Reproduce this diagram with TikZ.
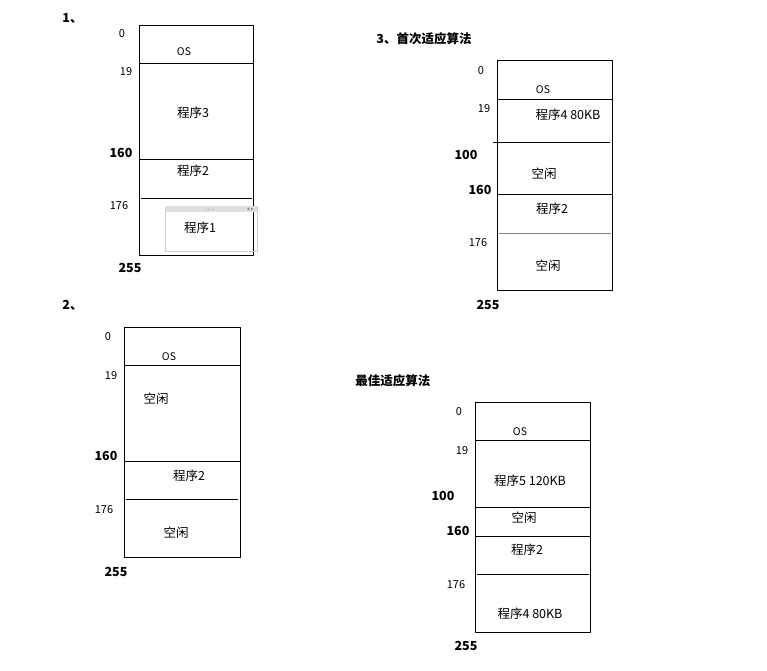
\documentclass[tikz,border=0pt]{standalone}
\usepackage{fontspec}
\setmainfont{Noto Sans CJK SC}
\begin{document}
\begin{tikzpicture}[x=1pt,y=-1pt,line join=round,line width=0.8pt,font=\fontsize{12.5}{14}\selectfont,
	lbl/.style={inner sep=0pt},
	addr/.style={inner sep=0pt,font=\fontsize{11}{13}\selectfont},
	baddr/.style={inner sep=0pt,font=\fontsize{12.5}{14}\selectfont\bfseries},
	ttl/.style={inner sep=0pt,anchor=west,font=\fontsize{12.5}{14}\selectfont\bfseries}]
	\useasboundingbox (0,0) rectangle (767,670);
	% 1
	\node[ttl] (t1) at (62,18) {1、};
	\draw (139,25) rectangle (253,255);
	\draw (139,63) -- (253,63) (139,159) -- (253,159) (141,198) -- (252,198);
	\draw[gray!40,line width=0.6pt] (165,206) rectangle (257,251);
	\fill[gray!25] (165,206) rectangle (257,212);
	\foreach \i in {0,...,3} \fill[gray] (206+2.5*\i,209) circle(0.5pt);
	\fill[gray] (249,207.5) -- (249,210.5) -- (247,209) -- cycle (251,207.5) -- (251,210.5) -- (253,209) -- cycle;
	\node[lbl,font=\fontsize{10.5}{12}\selectfont] (os1) at (184,52) {OS};
	\node[lbl] (p13) at (193,113) {程序3};
	\node[lbl] (p12) at (193,171) {程序2};
	\node[lbl] (p11) at (200,228) {程序1};
	\node[addr] (a10) at (122,34) {0};
	\node[addr] (a119) at (126,72) {19};
	\node[baddr] (a1160) at (121,153) {160};
	\node[addr] (a1176) at (119,206) {176};
	\node[baddr] (a1255) at (130,268) {255};
	% 2
	\node[ttl] (t2) at (62,305) {2、};
	\draw (124,327) rectangle (240,557);
	\draw (124,365) -- (240,365) (124,461) -- (240,461) (126,499) -- (238,499);
	\node[lbl,font=\fontsize{10.5}{12}\selectfont] (os2) at (169,357) {OS};
	\node[lbl] (f21) at (156,399) {空闲};
	\node[lbl] (p22) at (189,476) {程序2};
	\node[lbl] (f22) at (176,533) {空闲};
	\node[addr] (a20) at (108,337) {0};
	\node[addr] (a219) at (111,376) {19};
	\node[baddr] (a2160) at (106,456) {160};
	\node[addr] (a2176) at (104,510) {176};
	\node[baddr] (a2255) at (116,572) {255};
	% 3 首次适应
	\node[ttl] (t3) at (376,39) {3、首次适应算法};
	\draw (497,60) rectangle (612,290);
	\draw (497,99) -- (612,99) (493,142) -- (610,142) (497,194) -- (612,194);
	\draw[gray] (499,233) -- (611,233);
	\node[lbl,font=\fontsize{10.5}{12}\selectfont] (os3) at (543,90) {OS};
	\node[lbl] (p34) at (568,115) {程序4 80KB};
	\node[lbl] (f31) at (544,174) {空闲};
	\node[lbl] (p32) at (552,209) {程序2};
	\node[lbl] (f32) at (548,266) {空闲};
	\node[addr] (a30) at (481,71) {0};
	\node[addr] (a319) at (484,109) {19};
	\node[baddr] (a3100) at (466,155) {100};
	\node[baddr] (a3160) at (480,190) {160};
	\node[addr] (a3176) at (478,243) {176};
	\node[baddr] (a3255) at (488,305) {255};
	% 最佳适应
	\node[ttl] (t4) at (355,381) {最佳适应算法};
	\draw (475,402) rectangle (590,632);
	\draw (475,440) -- (590,440) (475,507) -- (590,507) (475,536) -- (590,536) (477,574) -- (589,574);
	\node[lbl,font=\fontsize{10.5}{12}\selectfont] (os4) at (520,432) {OS};
	\node[lbl] (p45) at (530,481) {程序5 120KB};
	\node[lbl] (f41) at (524,518) {空闲};
	\node[lbl] (p42) at (527,550) {程序2};
	\node[lbl] (p44) at (530,614) {程序4 80KB};
	\node[addr] (a40) at (459,412) {0};
	\node[addr] (a419) at (462,451) {19};
	\node[baddr] (a4100) at (443,496) {100};
	\node[baddr] (a4160) at (458,531) {160};
	\node[addr] (a4176) at (456,585) {176};
	\node[baddr] (a4255) at (466,646) {255};
\end{tikzpicture}
\end{document}
